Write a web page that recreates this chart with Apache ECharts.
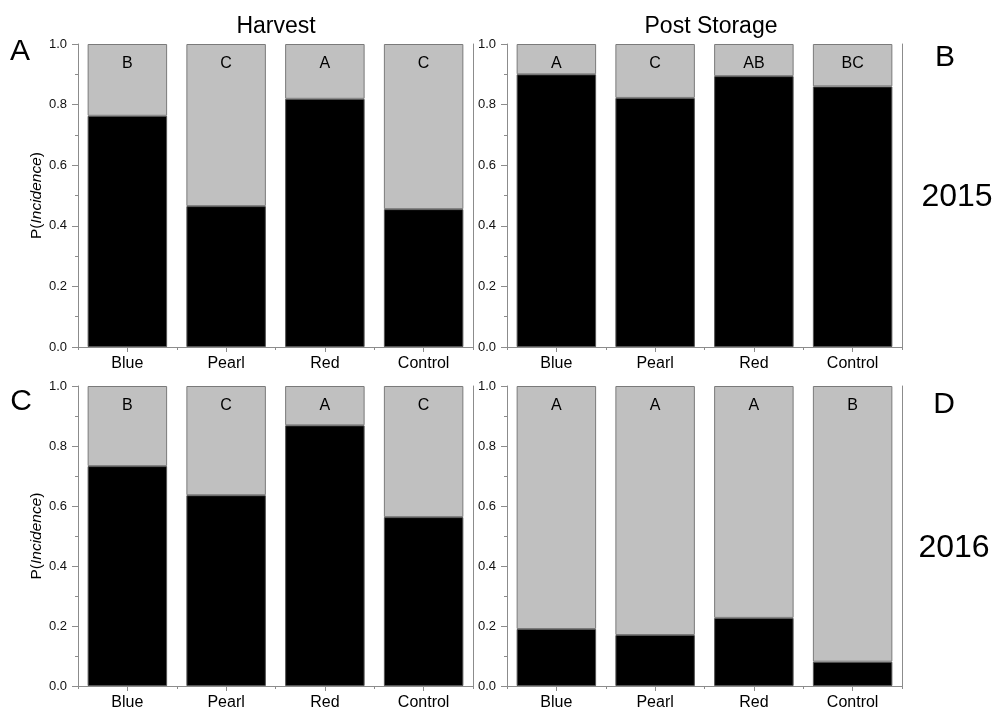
<!DOCTYPE html>
<html>
<head>
<meta charset="utf-8">
<script src="https://cdn.jsdelivr.net/npm/echarts@6/dist/echarts.min.js"></script>
<style>
  html, body { margin: 0; padding: 0; background: #fff; }
  #chart { width: 995px; height: 711px; }
</style>
</head>
<body>
<div id="chart"></div>
<script>
// Treatments on the x axis
const categories = ['Blue', 'Pearl', 'Red', 'Control'];

// Probability of incidence (black part of each bar)
const harvest2015 = [0.763, 0.465, 0.819, 0.455];
const storage2015 = [0.900, 0.822, 0.894, 0.860];
const harvest2016 = [0.733, 0.636, 0.869, 0.563];
const storage2016 = [0.190, 0.170, 0.227, 0.081];

// Mean-separation letters printed in the grey part
const letters2015Harvest = ['B', 'C', 'A', 'C'];
const letters2015Storage = ['A', 'C', 'AB', 'BC'];
const letters2016Harvest = ['B', 'C', 'A', 'C'];
const letters2016Storage = ['A', 'A', 'A', 'B'];

// Y-axis tick labels
const yTicks = [0, 0.2, 0.4, 0.6, 0.8, 1.0];

const FONT = '"Liberation Sans", Arial, Helvetica, sans-serif';
const AXIS_COLOR = '#8c8c8c';
const GREY = '#c0c0c0';

const panels = [
  { values: harvest2015, letters: letters2015Harvest, grid: { left: 78, top: 44, width: 395, height: 303 }, yName: true },
  { values: storage2015, letters: letters2015Storage, grid: { left: 507, top: 44, width: 395, height: 303 }, yName: false },
  { values: harvest2016, letters: letters2016Harvest, grid: { left: 78, top: 386, width: 395, height: 301 }, yName: true },
  { values: storage2016, letters: letters2016Storage, grid: { left: 507, top: 386, width: 395, height: 301 }, yName: false }
];

const grid = [], xAxis = [], yAxis = [], series = [];

panels.forEach((p, i) => {
  grid.push(Object.assign({ containLabel: false }, p.grid));

  // main category axis: labels and ticks at the bar centres
  xAxis.push({
    type: 'category', gridIndex: i, data: categories,
    axisLine: { show: true, lineStyle: { color: AXIS_COLOR, width: 1 } },
    axisTick: { show: true, alignWithLabel: true, length: 5, lineStyle: { color: AXIS_COLOR } },
    axisLabel: { color: '#000', fontSize: 16, fontFamily: FONT, margin: 9 },
    splitLine: { show: false }
  });
  // secondary axis for the short ticks between categories
  xAxis.push({
    type: 'category', gridIndex: i, data: categories, position: 'bottom',
    axisLine: { show: false },
    axisTick: { show: true, alignWithLabel: false, length: 3, lineStyle: { color: AXIS_COLOR } },
    axisLabel: { show: false },
    splitLine: { show: false }
  });

  const yBase = {
    type: 'value', gridIndex: i, min: 0, max: 1, interval: 0.2,
    splitLine: { show: false }
  };
  yAxis.push(Object.assign({}, yBase, {
    position: 'left',
    axisLine: { show: true, lineStyle: { color: AXIS_COLOR, width: 1 } },
    axisTick: { show: true, length: 6, lineStyle: { color: AXIS_COLOR } },
    minorTick: { show: true, splitNumber: 2, length: 3, lineStyle: { color: AXIS_COLOR } },
    axisLabel: {
      color: '#111', fontSize: 13, fontFamily: FONT, margin: 11,
      customValues: yTicks,
      formatter: v => v.toFixed(1)
    },
    name: p.yName ? '{n|P(}{i|Incidence}{n|)}' : '',
    nameLocation: 'middle', nameRotate: 90, nameGap: 32,
    nameTextStyle: {
      rich: {
        n: { fontSize: 15.5, fontFamily: FONT, color: '#000' },
        i: { fontSize: 15.5, fontFamily: FONT, color: '#000', fontStyle: 'italic' }
      }
    }
  }));
  // right-hand frame line
  yAxis.push(Object.assign({}, yBase, {
    position: 'right',
    axisLine: { show: true, onZero: false, lineStyle: { color: AXIS_COLOR, width: 1 } },
    axisTick: { show: false },
    axisLabel: { show: false }
  }));

  const xi = i * 2, yi = i * 2;
  series.push({
    type: 'bar', name: 'incidence', stack: 'p' + i,
    xAxisIndex: xi, yAxisIndex: yi,
    barWidth: '80.5%',
    data: p.values,
    itemStyle: { color: '#000', borderColor: '#555', borderWidth: 1 },
    silent: true, animation: false
  });
  series.push({
    type: 'bar', name: 'remainder', stack: 'p' + i,
    xAxisIndex: xi, yAxisIndex: yi,
    barWidth: '80.5%',
    data: p.values.map(v => +(1 - v).toFixed(3)),
    itemStyle: { color: GREY, borderColor: '#7a7a7a', borderWidth: 1 },
    label: {
      show: true, position: 'insideTop', distance: 12,
      fontSize: 16, fontFamily: FONT, color: '#000',
      formatter: prm => p.letters[prm.dataIndex]
    },
    silent: true, animation: false
  });
});

const txt = (x, y, text, size) => ({
  type: 'text', x: x, y: y,
  style: { text: text, fontSize: size, fontFamily: FONT, fill: '#000', textAlign: 'center', textVerticalAlign: 'middle' }
});

const chart = echarts.init(document.getElementById('chart'), null, { renderer: 'canvas' });
chart.setOption({
  backgroundColor: '#fff',
  animation: false,
  grid: grid,
  xAxis: xAxis,
  yAxis: yAxis,
  series: series,
  graphic: [
    txt(276, 27, 'Harvest', 23),
    txt(711, 27, 'Post Storage', 23),
    txt(20, 52, 'A', 30),
    txt(945, 58, 'B', 30),
    txt(21, 402, 'C', 30),
    txt(944, 405, 'D', 30),
    txt(957, 197, '2015', 32),
    txt(954, 548, '2016', 32)
  ]
});
</script>
</body>
</html>
